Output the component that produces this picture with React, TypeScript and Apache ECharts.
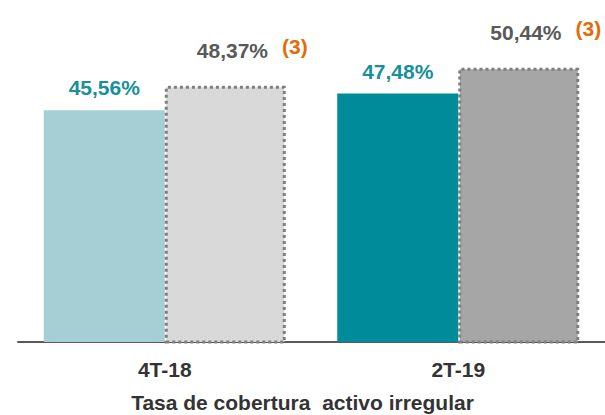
import React, { useEffect, useRef } from "react";
import * as echarts from "echarts";

const categories = ["4T-18", "2T-19"];
const baseValues = [45.56, 47.48];
const adjustedValues = [48.37, 50.44];
const adjustedNote = "(3)";
const chartTitle = "Tasa de cobertura  activo irregular";

const baseColors = ["#a5cfd5", "#008b9a"];
const adjustedColors = ["#d9d9d9", "#a6a6a6"];

const fmt = (v: number) => v.toFixed(2).replace(".", ",") + "%";

export default function App() {
  const ref = useRef<HTMLDivElement>(null);
  useEffect(() => {
    if (!ref.current) return;
    const chart = echarts.init(ref.current, null, { renderer: "svg" });
    const font = "'Liberation Sans', Arial, sans-serif";
    chart.setOption({
      animation: false,
      title: {
        text: chartTitle,
        left: "center",
        top: 390,
        padding: 0,
        textStyle: { fontFamily: font, fontSize: 21, fontWeight: "bold", color: "#333333", lineHeight: 24 },
      },
      grid: { left: 18, right: 0, top: 28, bottom: 73 },
      xAxis: {
        type: "category",
        data: categories,
        axisLine: { lineStyle: { color: "#595959", width: 2 } },
        axisTick: { show: false },
        axisLabel: { margin: 17, fontFamily: font, fontSize: 21, fontWeight: "bold", color: "#333333" },
      },
      yAxis: {
        type: "value",
        min: 19,
        max: 55,
        show: false,
        splitLine: { show: false },
      },
      series: [
        {
          type: "bar",
          barWidth: 121,
          barGap: "0%",
          data: baseValues.map((v, i) => ({ value: v, itemStyle: { color: baseColors[i] } })),
          label: {
            show: true,
            position: "top",
            distance: 12,
            formatter: (p: any) => fmt(p.value),
            fontFamily: font,
            fontSize: 21,
            fontWeight: "bold",
            color: "#17909c",
          },
        },
        {
          type: "bar",
          barWidth: 121,
          barGap: "0%",
          data: adjustedValues.map((v, i) => ({
            value: v,
            itemStyle: {
              color: adjustedColors[i],
              borderColor: "#7f7f7f",
              borderWidth: 3,
              borderType: [3, 3],
            },
          })),
          label: {
            show: true,
            position: "top",
            distance: 20,
            offset: [27, 0],
            formatter: (p: any) => `{v|${fmt(p.value)}}{n|${adjustedNote}}`,
            rich: {
              v: { fontFamily: font, fontSize: 21, fontWeight: "bold", color: "#595959" },
              n: {
                fontFamily: font,
                fontSize: 21,
                fontWeight: "bold",
                color: "#e36c09",
                padding: [0, 0, 9, 14],
              },
            },
          },
        },
      ],
    });
    return () => chart.dispose();
  }, []);
  return (
    <div
      ref={ref}
      style={{ position: "fixed", left: 0, top: 0, width: 605, height: 415, background: "#ffffff" }}
    />
  );
}
